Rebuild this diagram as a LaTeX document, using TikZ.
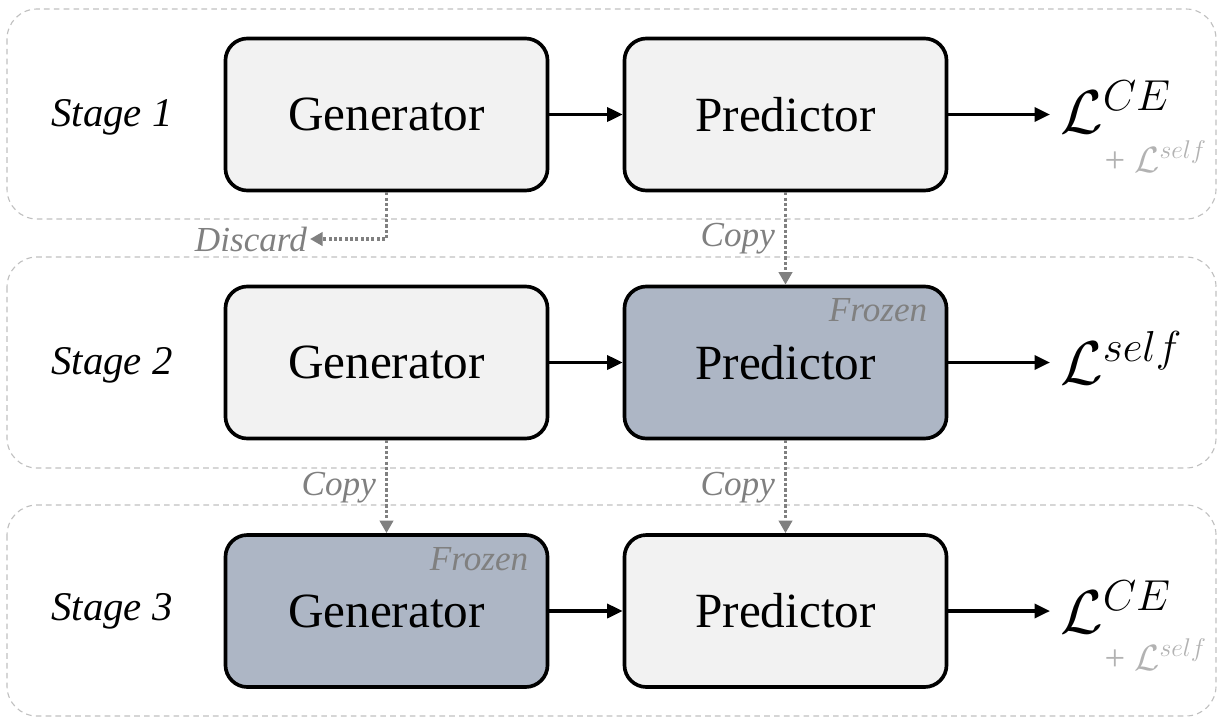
\RequirePackage{fix-cm}
\documentclass[tikz,border=0pt]{standalone}
\usepackage{fontspec}
\setmainfont{Liberation Serif}
\usetikzlibrary{arrows.meta}
\definecolor{boxfill}{RGB}{242,242,242}
\definecolor{frozenfill}{RGB}{173,182,197}
\definecolor{notegray}{RGB}{128,128,128}
\definecolor{panelgray}{RGB}{192,192,192}
\definecolor{lightnote}{RGB}{178,178,178}

\begin{document}
\begin{tikzpicture}[x=0.025cm, y=-0.025cm,
    block/.style={draw, line width=2.6pt, rounded corners=0.55cm, fill=boxfill, minimum width=8.05cm, minimum height=3.8cm, font=\fontsize{35}{40}\selectfont},
    frozen/.style={block, fill=frozenfill},
    stagelabel/.style={font=\fontsize{29}{34}\selectfont\itshape},
    note/.style={text=notegray, font=\fontsize{25}{30}\selectfont\itshape, inner sep=2pt},
    panel/.style={draw=panelgray, line width=0.8pt, dash pattern=on 4pt off 3pt, rounded corners=0.75cm},
    flow/.style={-{Triangle[length=11pt,width=10pt]}, line width=2.3pt},
    pass/.style={-{Triangle[length=9pt,width=9.5pt]}, line width=2.7pt, notegray, dash pattern=on 2.2pt off 1.6pt},
    loss/.style={font=\fontsize{44}{48}\selectfont, inner ysep=0pt, inner xsep=7pt},
    extra/.style={text=lightnote, font=\fontsize{26}{30}\selectfont, inner sep=0pt}]

    \useasboundingbox (0,0) rectangle (1228,724);

    % Stage panels
    \draw[panel] (7,9) rectangle (1216,219);
    \draw[panel] (7,257) rectangle (1216,468);
    \draw[panel] (7,505) rectangle (1216,716);

    % Stage 1
    \node[stagelabel] (stage1) at (112,117) {Stage 1};
    \node[block] (gen1) at (386.5,114.5) {Generator};
    \node[block] (pred1) at (785.5,114.5) {Predictor};
    \node[loss, anchor=base west] (loss1) at (1050,133) {$\mathcal{L}^{CE}$};
    \node[extra, anchor=base east] (extra1) at (1207,172) {+ $\mathcal{L}^{self}$};

    % Stage 2
    \node[stagelabel] (stage2) at (112,365) {Stage 2};
    \node[block] (gen2) at (386.5,362.5) {Generator};
    \node[frozen] (pred2) at (785.5,362.5) {Predictor};
    \node[loss, anchor=base west] (loss2) at (1050,384) {$\mathcal{L}^{self}$};

    % Stage 3
    \node[stagelabel] (stage3) at (112,611) {Stage 3};
    \node[frozen] (gen3) at (386.5,611) {Generator};
    \node[block] (pred3) at (785.5,611) {Predictor};
    \node[loss, anchor=base west] (loss3) at (1050,633) {$\mathcal{L}^{CE}$};
    \node[extra, anchor=base east] (extra3) at (1207,670) {+ $\mathcal{L}^{self}$};

    % Frozen tags
    \node[note, anchor=north east] (frz2) at ([shift={(-18,11)}]pred2.north east) {Frozen};
    \node[note, anchor=north east] (frz3) at ([shift={(-18,11)}]gen3.north east) {Frozen};

    % Forward arrows
    \draw[flow] (gen1) -- (pred1);
    \draw[flow] (gen2) -- (pred2);
    \draw[flow] (gen3) -- (pred3);
    \draw[flow] (pred1.east) -- (pred1.east -| loss1.west);
    \draw[flow] (pred2.east) -- (pred2.east -| loss2.west);
    \draw[flow] (pred3.east) -- (pred3.east -| loss3.west);

    % Transfer between stages
    \node[note, anchor=east] (discard) at (310,239) {Discard};
    \node[note, anchor=east] (copy1) at (778,239) {Copy};
    \node[note, anchor=east] (copy2) at (379,488) {Copy};
    \node[note, anchor=east] (copy3) at (778,488) {Copy};
    \draw[pass] (gen1.south) |- (discard.east);
    \draw[pass] (pred1.south) -- (pred2.north);
    \draw[pass] (gen2.south) -- (gen3.north);
    \draw[pass] (pred2.south) -- (pred3.north);
\end{tikzpicture}
\end{document}
